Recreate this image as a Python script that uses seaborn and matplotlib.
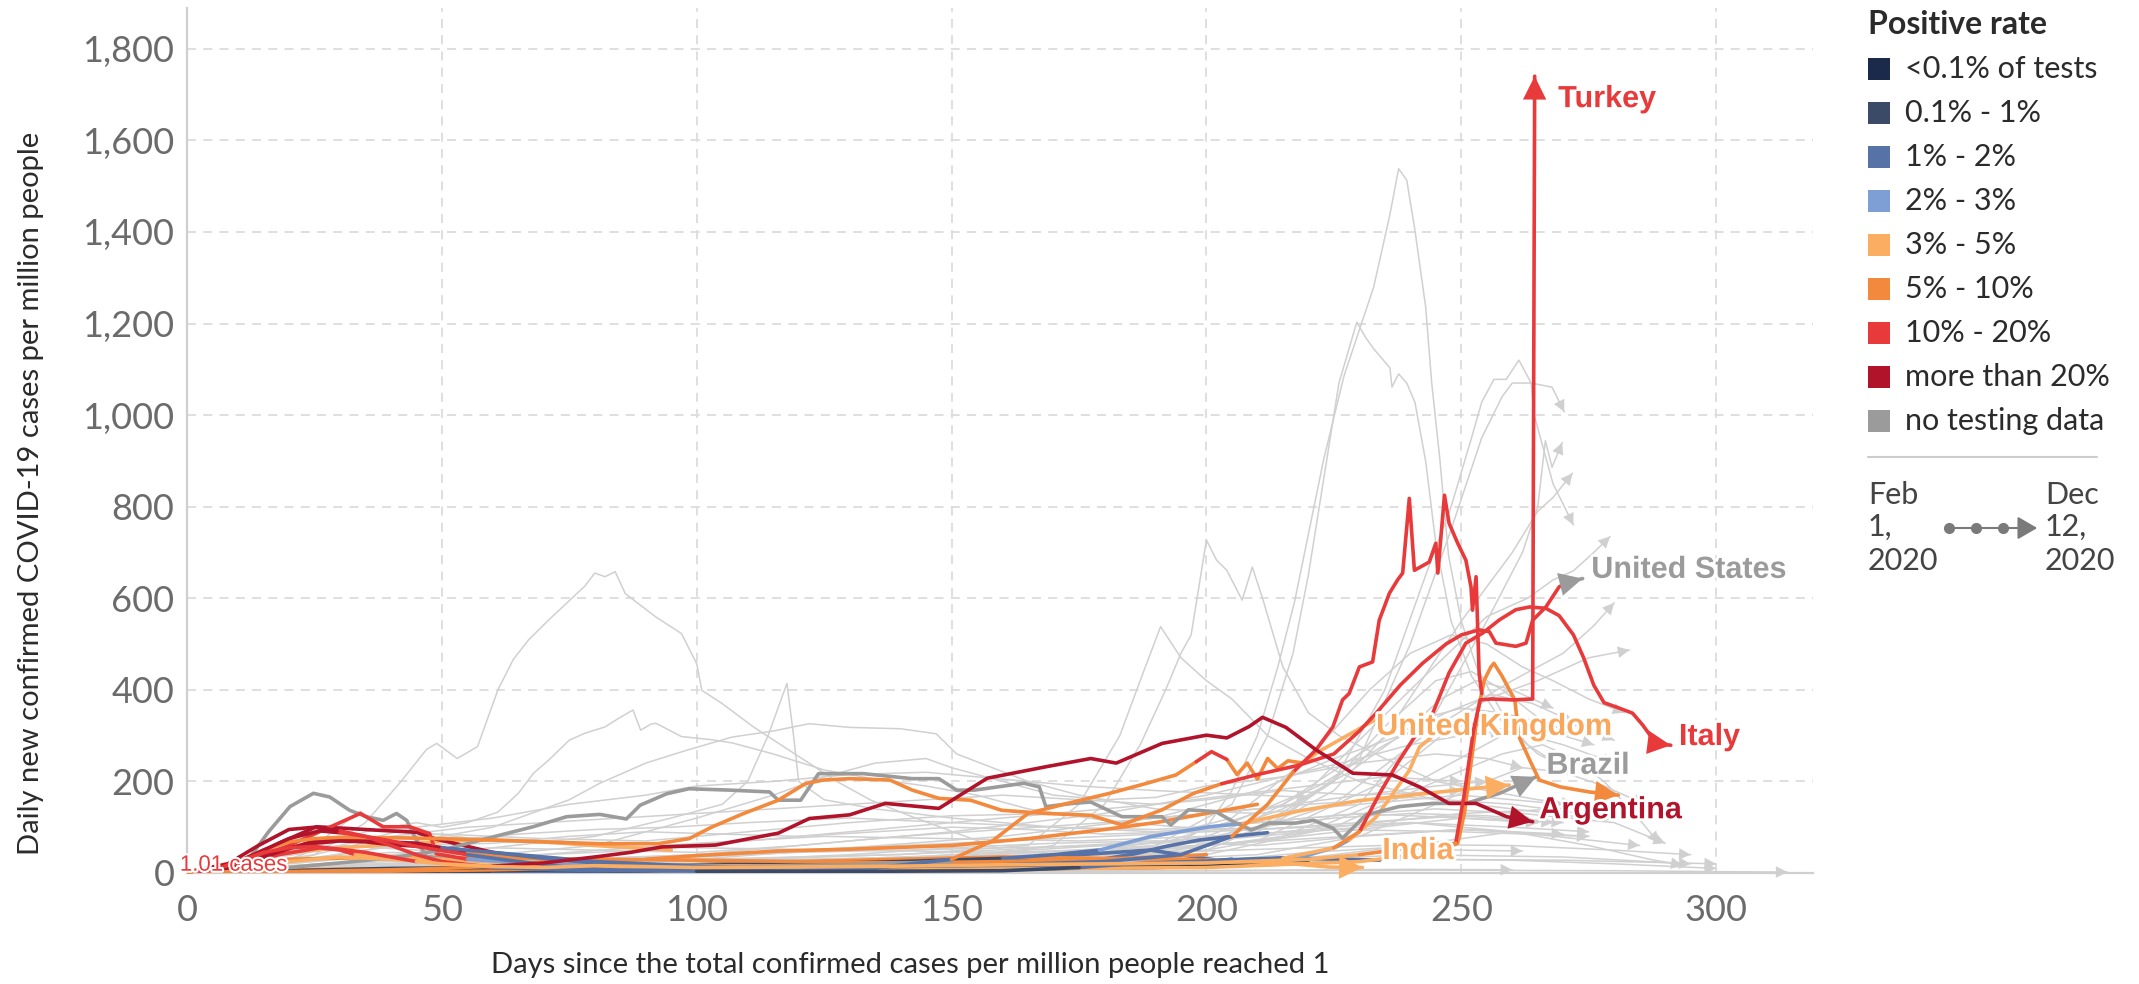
import pandas as pd
import seaborn as sns
import matplotlib.pyplot as plt
import matplotlib.patheffects as pe
from matplotlib.lines import Line2D
from matplotlib.patches import Rectangle, FancyArrowPatch

# ---- legend categories (positive rate) ----
cat_codes = ['a', 'b', 'c', 'd', 'e', 'f', 'g', 'h', 'n']
cat_labels = ['<0.1% of tests', '0.1% - 1%', '1% - 2%', '2% - 3%', '3% - 5%',
              '5% - 10%', '10% - 20%', 'more than 20%', 'no testing data']
cat_colors = ['#1b2a4a', '#3b4a66', '#5772a6', '#7e9ed6', '#fbad62',
              '#f3893c', '#e8393b', '#b1132b', '#9b9b9b']

# ---- highlighted countries / lines (days, daily cases per million, colour code per segment) ----
argentina_d = [0, 10, 20, 30, 40, 50, 60, 70, 80, 87, 93.2, 103.7, 116, 122.1, 130, 137, 147.5, 157, 168.5,
               177.3, 182.3, 191.3, 200, 204, 208.4, 211, 215.6, 221.5, 228.7, 236.5, 241.8, 247.6, 252.9,
               258.9, 264]
argentina_v = [1, 2, 3, 5, 7, 10, 15, 22, 35, 45, 57, 61, 87, 119, 127, 152, 141, 207, 232, 250, 240, 283,
               301, 295, 320, 340, 318, 269, 218, 214, 188, 152, 152, 123, 112]
argentina_c = 'ffffff' + 'h' * 29

brazil_d = [0, 10, 20, 30, 40, 50, 60.1, 67.9, 74.5, 81, 86.2, 88.9, 94.1, 98.5, 106.4, 114.3, 116, 120.4,
            123.9, 132.7, 142.3, 147.5, 151, 154.5, 164.2, 167.2, 168.5, 173.8, 177.3, 183.4, 191.3, 193,
            196.5, 201.8, 205.3, 208.8, 212.3, 217.5, 221, 224.8, 226.7, 231.3, 237.8, 244.4, 250.9, 257.5,
            264.7]
brazil_v = [1, 4, 12, 22, 33, 50, 79, 101, 123, 128, 118, 148, 173, 184, 181, 177, 159, 159, 217, 217, 206,
            206, 181, 181, 196, 188, 145, 152, 155, 123, 123, 105, 138, 134, 112, 94, 109, 109, 115, 98, 76,
            127, 145, 152, 152, 174, 210]
brazil_c = 'n'

grey_peak_d = [0, 6, 12.4, 16, 20.2, 24.8, 28, 31.9, 35.2, 38.5, 41.1, 43.1, 45, 47, 52, 60, 75, 90, 110,
               130, 150]
grey_peak_v = [1, 10, 35, 90, 145, 174, 166, 137, 123, 115, 130, 115, 72, 36, 30, 25, 20, 18, 15, 18, 25]
grey_peak_c = 'n'

us_d = [0, 5, 10, 15, 20, 25, 30, 40, 50, 60, 70, 81, 92.4, 98.5, 102.9, 109, 116, 121.3, 124.8, 130,
        137.9, 142.3, 147.5, 153.7, 159.8, 168.5, 177.3, 183.4, 191.3, 197.5, 203, 210, 218, 225, 230, 233.3,
        238, 242.4, 247, 250, 253.5, 255.5, 256.8, 260.7, 262.7, 264, 266.6, 269.2, 271, 273.8]
us_v = [1, 6, 25, 50, 68, 75, 78, 77, 75, 72, 68, 64, 64, 75, 100, 129, 159, 195, 203, 206, 203, 181, 163,
        159, 137, 130, 126, 105, 138, 174, 195, 215, 235, 260, 310, 349, 410, 458, 500, 520, 531, 527, 502,
        495, 502, 552, 581, 625, 635, 643]
us_c = 'f' * 30 + 'g' * 18 + 'nn'

uk_d = [0, 5, 10, 15, 20, 25, 30, 35, 40, 50, 60, 70, 80, 90, 100, 110, 120, 135, 150, 158, 165, 172, 181,
        188, 194, 198, 201, 204, 206, 208, 210, 212, 214, 216, 219, 222, 226, 230, 233]
uk_v = [1, 4, 15, 35, 55, 65, 70, 68, 62, 55, 45, 32, 22, 18, 14, 11, 10, 11, 30, 70, 130, 150, 174, 195,
        214, 243, 265, 248, 215, 240, 205, 250, 228, 245, 240, 265, 290, 315, 334]
uk_c = 'h' * 9 + 'c' * 9 + 'f' * 7 + 'gg' + 'f' * 7 + 'e' * 5

italy_d = [0, 5, 10, 15, 20, 26, 30, 35, 40, 45, 55, 65, 75, 85, 100, 120, 140, 160, 175, 185, 200, 215,
           225, 230, 234, 237.5, 241, 244.4, 247.6, 250.9, 254.2, 257.5, 260.7, 263.4, 266.6, 269.2, 272,
           274, 276, 278, 281, 283.6, 285.6, 288.2, 291.1]
italy_v = [1, 8, 25, 50, 75, 92, 88, 80, 70, 58, 40, 25, 12, 6, 4, 3, 4, 5, 12, 20, 25, 32, 55, 90, 174,
           240, 300, 349, 437, 502, 524, 553, 575, 581, 578, 562, 520, 470, 410, 372, 360, 349, 323, 283, 279]
italy_c = 'h' * 6 + 'g' * 4 + 'c' * 4 + 'b' * 4 + 'c' * 3 + 'e' + 'f' + 'g' * 22

turkey_d = [0, 5, 10, 15, 20, 25, 30, 35, 40, 45, 50, 60, 70, 80, 90, 100, 120, 140, 160, 180, 200, 220,
            230, 240, 246, 248.9, 250.5, 252.4, 253.7, 256, 260, 264, 264.4]
turkey_v = [1, 6, 25, 45, 55, 58, 52, 45, 35, 25, 20, 14, 12, 16, 14, 12, 13, 15, 18, 20, 22, 30, 40, 55,
            60, 65, 166, 312, 378, 380, 378, 380, 1740]
turkey_c = 'g' * 9 + 'e' * 13 + 'f' * 3 + 'g' * 8

spiky_d = [0, 8, 14, 20, 25, 30, 35, 40, 45, 50, 60, 80, 100, 120, 140, 160, 180, 195, 205, 212, 217,
           221.5, 224.8, 226.7, 228, 230, 232.6, 233.9, 235.9, 237.5, 238.5, 239.8, 240.8, 243.7, 245,
           245.4, 246.7, 247.6, 249.3, 250.9, 251.9, 252.2, 252.9, 253.5, 254]
spiky_v = [1, 20, 60, 95, 100, 92, 80, 60, 40, 25, 12, 5, 8, 10, 14, 18, 25, 40, 80, 150, 220, 269, 319,
           378, 392, 450, 461, 552, 611, 640, 655, 818, 661, 679, 720, 655, 825, 764, 720, 683, 625, 574,
           647, 436, 392]
spiky_c = 'h' * 5 + 'g' * 5 + 'c' * 8 + 'ff' + 'g' * 25

orange_peak_d = [0, 10, 20, 30, 40, 60, 100, 150, 200, 230, 245, 249.3, 250.6, 251.9, 253.2, 254.5, 255.8,
                 256.4, 258, 260.5, 261.3, 263.7, 265.3, 269.4, 275.1, 280.8]
orange_peak_v = [1, 8, 25, 35, 30, 15, 10, 8, 12, 25, 45, 65, 130, 239, 349, 421, 450, 458, 430, 378, 298,
                 240, 203, 188, 177, 170]
orange_peak_c = 'e' * 10 + 'f' * 16

gentle_d = [0, 20, 40, 60, 80, 100, 120, 140, 160, 170, 179, 188.8, 200.6, 207.1, 218, 230, 240, 250, 259.4]
gentle_v = [1, 5, 10, 12, 15, 18, 20, 25, 32, 40, 50, 79, 101, 108, 135, 158, 170, 182, 192]
gentle_c = 'b' * 8 + 'cc' + 'ddd' + 'e' * 6

india_d = [0, 20, 40, 60, 80, 100, 120, 140, 160, 180, 200, 215, 224, 230.6]
india_v = [1, 2, 4, 7, 12, 18, 25, 30, 35, 32, 28, 22, 13, 12]
india_c = 'f' * 10 + 'e' * 4

blue_flat_d = [60, 80, 100, 120, 140, 160, 175, 189, 202, 215, 234]
blue_flat_v = [5, 8, 12, 15, 20, 28, 40, 50, 28, 33, 28]
blue_flat_c = 'bbbb' + 'c' * 7

light_blue_d = [100, 130, 160, 190, 205, 215, 220, 225.5, 228, 233.3, 239.8, 241.8, 244]
light_blue_v = [5, 10, 15, 22, 28, 32, 39, 57, 72, 122, 224, 275, 295]
light_blue_c = 'c' * 5 + 'ddd' + 'e' * 5

blue_rise_d = [60, 90, 120, 150, 170, 179, 186, 192, 198.6, 205, 212]
blue_rise_v = [3, 6, 10, 14, 18, 29, 42, 58, 72, 80, 88]
blue_rise_c = 'c'

navy1_d = [70, 90, 110, 130, 150, 170, 190, 200, 210, 220]
navy1_v = [3, 5, 8, 9, 9, 10, 12, 15, 18, 22]
navy1_c = 'a'
navy2_d = [50, 70, 100, 130, 160, 180, 195, 205]
navy2_v = [2, 4, 6, 7, 8, 12, 20, 30]
navy2_c = 'b'
navy3_d = [0, 20, 40, 54.5]
navy3_v = [1, 2, 3, 2]
navy3_c = 'a'

early_r1_d = [0, 6, 12, 18, 25.4, 31.9, 38, 45, 48.9, 51.6, 60, 80, 100, 130, 160]
early_r1_v = [1, 10, 30, 65, 101, 97, 93, 89, 74, 67, 45, 25, 15, 10, 8]
early_r1_c = 'h' * 10 + 'c' * 5
early_r3_d = [0, 10, 20, 28, 34, 38.5, 43.7, 47.6, 48.9, 55, 70, 90, 120]
early_r3_v = [1, 20, 60, 100, 130, 101, 101, 86, 42, 30, 20, 15, 12]
early_r3_c = 'g' * 9 + 'dddd'
early_r4_d = [0, 8, 15, 25.4, 35, 45, 55, 70, 90]
early_r4_v = [1, 12, 35, 72, 70, 65, 45, 30, 20]
early_r4_c = 'h' * 6 + 'fff'
early_r5_d = [0, 10, 18, 26, 30, 33, 40, 60, 90, 130]
early_r5_v = [1, 15, 40, 55, 50, 40, 35, 25, 18, 12]
early_r5_c = 'g' * 5 + 'e' * 5
early_o2_d = [0, 10, 20, 40, 60, 80, 100, 120, 140, 160, 180, 200]
early_o2_v = [1, 15, 30, 35, 33, 30, 28, 25, 22, 25, 30, 40]
early_o2_c = 'f'
early_o3_d = [0, 15, 30, 48, 70, 100, 130, 160]
early_o3_v = [1, 6, 8, 9, 8, 7, 8, 10]
early_o3_c = 'f'
early_o4_d = [0, 12, 20, 30, 40, 52, 60, 70, 80, 95]
early_o4_v = [1, 30, 45, 55, 62, 70, 72, 68, 60, 50]
early_o4_c = 'e'
mid_orange_d = [90, 100, 116, 130, 150, 165, 180, 190, 200, 210]
mid_orange_v = [30, 38, 48, 52, 60, 75, 95, 110, 130, 150]
mid_orange_c = 'f'

# ---- background countries (thin grey) ----
g01_d = [0, 15, 25, 35, 42, 47, 49, 53, 57, 61, 64, 67, 71, 78, 80, 82, 84, 86, 92, 97, 100, 101, 105, 111,
         118, 123, 127, 134, 142, 151, 160, 175, 190, 205, 220, 235, 250, 262]
g01_v = [1, 10, 40, 110, 200, 270, 283, 250, 276, 400, 466, 509, 553, 626, 655, 647, 658, 610, 559, 523, 457,
         399, 370, 320, 269, 233, 203, 160, 124, 87, 51, 35, 28, 30, 45, 55, 50, 48]
g02_d = [0, 20, 35, 45, 50, 55, 61, 65, 68, 71, 75, 78, 82, 85, 87.5, 89, 91, 92, 97, 103, 107, 115, 125,
         135, 145, 155, 165, 180, 195, 210, 230, 250, 268]
g02_v = [1, 30, 90, 110, 100, 110, 133, 174, 218, 247, 290, 305, 319, 340, 356, 312, 325, 327, 298, 291, 284,
         260, 225, 205, 190, 170, 140, 115, 100, 95, 110, 125, 110]
g03_d = [0, 30, 60, 90, 120, 150, 170, 180, 187, 192, 195, 197, 200, 202, 204, 207, 209, 211, 215, 220, 226,
         235, 245, 255, 265, 272]
g03_v = [1, 20, 15, 10, 15, 30, 60, 150, 280, 400, 480, 520, 727, 683, 661, 596, 668, 600, 450, 350, 300,
         250, 200, 180, 160, 150]
g04_d = [0, 40, 80, 120, 160, 190, 200, 205, 210, 214, 217.3, 223, 227, 232.8, 236, 237.7, 239.3, 240.9, 243,
         244.2, 245.8, 247.5, 250, 253, 258, 263, 270]
g04_v = [1, 30, 10, 5, 8, 40, 100, 180, 300, 450, 593, 903, 1086, 1279, 1438, 1538, 1513, 1404, 1237, 1070,
         903, 693, 550, 450, 350, 280, 230]
g05_d = [0, 40, 80, 120, 160, 190, 205, 212, 217, 220, 223, 226, 229.5, 231.2, 232.8, 236, 236.4, 237.7,
         239.3, 240.9, 243, 245, 248, 252, 258, 265, 272]
g05_v = [1, 15, 8, 10, 20, 60, 150, 300, 480, 651, 860, 1070, 1203, 1170, 1145, 1103, 1061, 1090, 1070, 1028,
         900, 720, 550, 430, 330, 260, 220]
g06_d = [0, 50, 100, 150, 190, 210, 225, 235, 243, 248, 252, 254, 256.4, 258.8, 261.3, 263.7, 264.3, 268, 272]
g06_v = [1, 20, 10, 15, 40, 90, 200, 400, 650, 800, 950, 1028, 1078, 1078, 1120, 1070, 1000, 850, 760]
g07_d = [0, 50, 100, 150, 200, 215, 230, 240, 248, 254, 258, 260, 263.7, 267.8, 270.2]
g07_v = [1, 10, 8, 12, 50, 120, 250, 500, 750, 950, 1040, 1070, 1070, 1061, 1007]
g08_d = [0, 60, 120, 180, 215, 230, 245, 255, 262, 265, 266.5, 267.8, 269.8]
g08_v = [1, 15, 10, 30, 80, 150, 350, 550, 700, 800, 944, 886, 940]
g09_d = [0, 60, 120, 180, 210, 225, 235, 250, 260, 265, 268, 271.8]
g09_v = [1, 20, 15, 40, 90, 180, 300, 550, 700, 790, 820, 873]
g10_d = [0, 80, 150, 200, 220, 240, 255, 263, 268, 272, 276, 279.2]
g10_v = [1, 10, 15, 60, 180, 400, 560, 600, 640, 660, 700, 735]
g11_d = [0, 80, 150, 200, 225, 245, 260, 270, 276, 280]
g11_v = [1, 15, 20, 60, 150, 320, 420, 480, 540, 590]
g12_d = [0, 80, 160, 210, 235, 255, 265, 275, 283]
g12_v = [1, 8, 25, 70, 200, 380, 420, 470, 487]
g13_d = [0, 50, 100, 140, 165, 175, 183, 187, 191, 195, 200, 205, 212, 220, 230, 245, 260, 275]
g13_v = [1, 20, 30, 40, 60, 150, 300, 420, 538, 470, 420, 380, 300, 250, 200, 160, 140, 120]
g14_d = [0, 30, 60, 75, 81, 90, 98, 107, 115, 122, 130, 140, 147, 151, 158, 165, 175, 190, 210, 230, 250, 270]
g14_v = [1, 40, 100, 160, 196, 240, 268, 297, 310, 326, 318, 315, 304, 260, 230, 200, 170, 140, 130, 150, 170,
         150]
g15_d = [0, 40, 80, 95, 105, 110, 114, 117.7, 119, 120, 125, 135, 150, 170, 190, 210, 230, 250, 265]
g15_v = [1, 30, 80, 120, 150, 200, 300, 414, 300, 200, 160, 140, 120, 100, 90, 110, 130, 120, 110]
g16_d = [0, 40, 80, 100, 115, 125, 135, 145, 150, 160, 170, 180, 190, 200, 215, 230, 245, 255, 262]
g16_v = [1, 20, 60, 120, 170, 210, 240, 250, 230, 200, 170, 160, 165, 190, 210, 240, 260, 250, 230]
g17_d = [0, 100, 180, 205, 220, 232, 240, 248, 255, 262, 268, 275, 282]
g17_v = [1, 20, 50, 120, 250, 400, 480, 520, 500, 450, 420, 380, 350]
g18_d = [0, 100, 180, 210, 225, 235, 245, 252, 258, 265, 272]
g18_v = [1, 10, 30, 100, 200, 320, 420, 440, 400, 340, 300]
g19_d = [0, 120, 190, 215, 230, 240, 250, 258, 265, 270, 276]
g19_v = [1, 15, 60, 150, 260, 330, 360, 350, 330, 300, 280]
g20_d = [0, 100, 170, 200, 215, 228, 238, 246, 253, 260, 268]
g20_v = [1, 12, 40, 80, 140, 220, 300, 380, 420, 400, 360]
g21_d = [0, 130, 200, 225, 245, 258, 266, 272, 278, 284, 288.8]
g21_v = [1, 10, 40, 100, 200, 260, 280, 250, 200, 130, 65]
g22_d = [0, 150, 210, 240, 260, 275, 287, 293.4]
g22_v = [1, 5, 20, 60, 90, 60, 30, 17]
g23_d = [0, 100, 200, 250, 280, 300, 314]
g23_v = [1, 3, 5, 6, 5, 3, 2]
g24_d = [0, 100, 160, 190, 210, 225, 238, 250, 260, 270, 280]
g24_v = [1, 30, 80, 120, 180, 250, 300, 330, 310, 280, 240]
g25_d = [0, 120, 180, 205, 222, 235, 247, 256, 264, 272]
g25_v = [1, 20, 60, 110, 190, 280, 350, 390, 370, 330]
g26_d = [0, 140, 200, 220, 235, 248, 258, 266, 274, 280]
g26_v = [1, 15, 50, 90, 160, 240, 300, 330, 320, 290]
g27_d = [0, 150, 210, 230, 245, 255, 262, 270, 278, 286]
g27_v = [1, 10, 40, 80, 150, 200, 230, 220, 190, 150]
g28_d = [0, 100, 150, 180, 200, 215, 230, 240, 250, 258]
g28_v = [1, 40, 90, 130, 170, 210, 250, 280, 300, 310]
b01_d = [0, 10, 20, 30, 45, 60, 80, 100, 120, 140, 160, 180, 200, 220, 240, 260, 275]
b01_v = [1, 15, 45, 60, 50, 40, 30, 35, 45, 50, 55, 60, 70, 90, 110, 100, 90]
b02_d = [0, 10, 25, 40, 55, 70, 90, 110, 130, 150, 170, 190, 210, 230, 250, 270]
b02_v = [1, 8, 30, 45, 40, 30, 25, 30, 40, 55, 65, 70, 60, 80, 95, 85]
b03_d = [0, 15, 30, 50, 70, 90, 110, 130, 150, 170, 190, 210, 230, 250, 265]
b03_v = [1, 20, 35, 30, 20, 15, 20, 28, 35, 40, 50, 70, 95, 120, 110]
b04_d = [0, 20, 40, 60, 80, 100, 120, 140, 160, 180, 200, 220, 240, 260, 285]
b04_v = [1, 10, 20, 25, 30, 40, 50, 60, 70, 80, 90, 100, 110, 90, 60]
b05_d = [0, 20, 35, 50, 65, 80, 95, 110, 130, 150, 170, 190, 205, 225, 245, 262, 280, 290]
b05_v = [1, 25, 50, 70, 85, 95, 100, 110, 120, 110, 100, 95, 105, 125, 140, 130, 110, 65]
b06_d = [0, 20, 40, 60, 80, 100, 120, 140, 160, 180, 200, 220, 240, 260, 280, 300]
b06_v = [1, 5, 10, 12, 10, 8, 10, 12, 15, 18, 20, 25, 30, 28, 20, 10]
b07_d = [0, 30, 60, 90, 120, 150, 180, 210, 240, 270, 295]
b07_v = [1, 8, 15, 20, 25, 22, 20, 25, 40, 35, 20]
b08_d = [0, 15, 30, 45, 60, 75, 90, 105, 120, 135, 150, 165, 180, 195, 210, 225, 240, 255, 270]
b08_v = [1, 30, 55, 60, 65, 80, 90, 85, 80, 90, 100, 95, 85, 90, 100, 120, 130, 125, 110]
b09_d = [0, 25, 50, 75, 100, 125, 150, 175, 200, 225, 250, 275]
b09_v = [1, 15, 25, 45, 65, 80, 75, 70, 80, 95, 90, 80]
b10_d = [0, 25, 40, 55, 70, 85, 100, 115, 130, 145, 160, 175, 190, 205, 220, 235, 250]
b10_v = [1, 40, 80, 100, 110, 120, 130, 140, 150, 160, 170, 160, 150, 170, 190, 210, 200]
b11_d = [0, 30, 60, 90, 120, 150, 180, 210, 240, 260]
b11_v = [1, 3, 4, 5, 6, 5, 4, 6, 8, 7]
b12_d = [0, 20, 40, 60, 90, 120, 150, 180, 210, 240, 270, 300]
b12_v = [1, 12, 18, 22, 18, 14, 12, 15, 22, 30, 28, 20]
b13_d = [0, 30, 45, 60, 75, 90, 100, 115, 130, 145, 160, 175, 190, 200, 210, 220]
b13_v = [1, 60, 100, 120, 150, 170, 190, 200, 215, 220, 205, 190, 180, 175, 170, 165]
b14_d = [0, 30, 60, 90, 120, 150, 180, 200, 215, 230, 245, 255]
b14_v = [1, 20, 35, 50, 80, 110, 140, 160, 180, 170, 190, 200]
b15_d = [0, 25, 34, 38, 45, 60, 80, 100, 130, 160, 190, 220, 250, 275]
b15_v = [1, 60, 135, 100, 90, 70, 60, 55, 50, 45, 55, 75, 95, 80]
b16_d = [0, 20, 40, 60, 80, 100, 120, 140, 160, 180, 200, 220, 240, 260, 280]
b16_v = [1, 20, 40, 55, 50, 45, 60, 80, 95, 110, 130, 150, 165, 150, 120]
b17_d = [0, 15, 30, 50, 70, 90, 110, 130, 150, 170, 190, 210, 230, 250]
b17_v = [1, 35, 70, 85, 75, 70, 90, 110, 125, 130, 120, 140, 170, 180]
b18_d = [0, 25, 50, 75, 100, 125, 150, 175, 200, 225, 250, 270]
b18_v = [1, 10, 15, 20, 25, 35, 45, 60, 75, 100, 130, 140]
b19_d = [0, 20, 40, 60, 80, 100, 120, 140, 160, 180, 200, 220, 240, 260, 280, 295]
b19_v = [1, 8, 14, 18, 22, 26, 30, 34, 38, 42, 48, 55, 62, 60, 50, 40]

# ---- end labels ----
label_names = ['Turkey', 'United States', 'Italy', 'United Kingdom', 'India', 'Brazil', 'Argentina']
label_days = [269, 275.5, 292.7, 233.3, 234.5, 266.7, 265.3]
label_vals = [1690, 662, 297, 319, 48, 234, 137]
label_cols = ['#e8393b', '#9b9b9b', '#e8393b', '#f9a75d', '#f9a75d', '#9b9b9b', '#b1132b']

y_ticks = [0, 200, 400, 600, 800, 1000, 1200, 1400, 1600, 1800]
x_ticks = [0, 50, 100, 150, 200, 250, 300]

# ---------------------------------------------------------------
W, H = 2139, 984
sns.set_theme(style='white')
plt.rcParams['font.family'] = ['Lato', 'DejaVu Sans']

fig = plt.figure(figsize=(W / 100, H / 100), dpi=100)
ax = fig.add_axes([187 / W, 1 - 873 / H, (1813 - 187) / W, (873 - 8) / H])

palette = dict(zip(cat_codes, cat_colors))

grey_series = [(g01_d, g01_v), (g02_d, g02_v), (g03_d, g03_v), (g04_d, g04_v), (g05_d, g05_v),
               (g06_d, g06_v), (g07_d, g07_v), (g08_d, g08_v), (g09_d, g09_v), (g10_d, g10_v),
               (g11_d, g11_v), (g12_d, g12_v), (g13_d, g13_v), (g14_d, g14_v), (g15_d, g15_v),
               (g16_d, g16_v), (g17_d, g17_v), (g18_d, g18_v), (g19_d, g19_v), (g20_d, g20_v),
               (g21_d, g21_v), (g22_d, g22_v), (g23_d, g23_v), (g24_d, g24_v), (g25_d, g25_v),
               (g26_d, g26_v), (g27_d, g27_v), (g28_d, g28_v),
               (b01_d, b01_v), (b02_d, b02_v), (b03_d, b03_v), (b04_d, b04_v), (b05_d, b05_v),
               (b06_d, b06_v), (b07_d, b07_v), (b08_d, b08_v), (b09_d, b09_v), (b10_d, b10_v),
               (b11_d, b11_v), (b12_d, b12_v), (b13_d, b13_v), (b14_d, b14_v), (b15_d, b15_v),
               (b16_d, b16_v), (b17_d, b17_v), (b18_d, b18_v), (b19_d, b19_v)]

rows = []
for i, (d, v) in enumerate(grey_series):
    rows += [dict(line=i, day=x, val=y) for x, y in zip(d, v)]
grey_df = pd.DataFrame(rows)
sns.lineplot(data=grey_df, x='day', y='val', units='line', estimator=None, sort=False,
             color='#d0d0d0', linewidth=1.1, ax=ax, legend=False, zorder=2)

# (days, values, colour codes, draw arrow head at the end?)
highlight = [(early_o3_d, early_o3_v, early_o3_c, False), (navy3_d, navy3_v, navy3_c, False),
             (navy1_d, navy1_v, navy1_c, False), (navy2_d, navy2_v, navy2_c, False),
             (blue_rise_d, blue_rise_v, blue_rise_c, False), (blue_flat_d, blue_flat_v, blue_flat_c, False),
             (india_d, india_v, india_c, True), (gentle_d, gentle_v, gentle_c, True),
             (light_blue_d, light_blue_v, light_blue_c, False), (early_o2_d, early_o2_v, early_o2_c, False),
             (early_o4_d, early_o4_v, early_o4_c, False), (mid_orange_d, mid_orange_v, mid_orange_c, False),
             (grey_peak_d, grey_peak_v, grey_peak_c, False), (early_r5_d, early_r5_v, early_r5_c, False),
             (early_r4_d, early_r4_v, early_r4_c, False), (early_r1_d, early_r1_v, early_r1_c, False),
             (early_r3_d, early_r3_v, early_r3_c, False), (brazil_d, brazil_v, brazil_c, True),
             (orange_peak_d, orange_peak_v, orange_peak_c, True), (uk_d, uk_v, uk_c, False),
             (us_d, us_v, us_c, True), (spiky_d, spiky_v, spiky_c, False), (italy_d, italy_v, italy_c, True),
             (argentina_d, argentina_v, argentina_c, True), (turkey_d, turkey_v, turkey_c, True)]


def segment_rows(days, vals, cats, sid):
    n = len(days)
    cats = cats.ljust(n, cats[-1])
    out, i, k = [], 0, 0
    while i < n - 1:
        c = cats[i]
        j = i
        while j < n - 1 and cats[j] == c:
            j += 1
        for p in range(i, j + 1):
            out.append(dict(seg=f'{sid}_{k}', day=days[p], val=vals[p], cat=c))
        k += 1
        i = j
    return out


for sid, (d, v, c, head) in enumerate(highlight):
    seg_df = pd.DataFrame(segment_rows(d, v, c, sid))
    sns.lineplot(data=seg_df, x='day', y='val', hue='cat', units='seg', estimator=None, sort=False,
                 palette=palette, linewidth=2.6, ax=ax, legend=False, zorder=3 + sid * 0.01)
    if head:
        cc = c.ljust(len(d), c[-1])
        ax.annotate('', xy=(d[-1], v[-1]), xytext=(d[-2], v[-2]),
                    arrowprops=dict(arrowstyle='-|>,head_length=0.7,head_width=0.35', lw=0,
                                    color=palette[cc[len(d) - 2]], shrinkA=0, shrinkB=0,
                                    mutation_scale=24), zorder=4)

for d, v in grey_series:
    ax.annotate('', xy=(d[-1], v[-1]), xytext=(d[-2], v[-2]),
                arrowprops=dict(arrowstyle='-|>,head_length=0.6,head_width=0.3', lw=0,
                                color='#d0d0d0', shrinkA=0, shrinkB=0, mutation_scale=14), zorder=2)

# country labels
for name, dx, vy, col in zip(label_names, label_days, label_vals, label_cols):
    ax.text(dx, vy, name, color=col, fontsize=22, fontweight='bold', family='Liberation Sans',
            ha='left', va='center', zorder=6,
            path_effects=[pe.withStroke(linewidth=4, foreground='white')])

ax.plot([0], [1], marker='o', ms=7, color='#f3893c', zorder=6)
ax.text(-1.4, 17, '1.01 cases', color='#e8393b', fontsize=16, family='Liberation Sans',
        ha='left', va='center', zorder=7,
        path_effects=[pe.withStroke(linewidth=3, foreground='white')])

# axes styling
ax.set_xlim(0, 319)
ax.set_ylim(0, 1889)
ax.set_xticks(x_ticks)
ax.set_yticks(y_ticks)
ax.set_yticklabels([f'{t:,}' for t in y_ticks])
ax.grid(True, linestyle=(0, (5, 4)), color='#dcdcdc', linewidth=1.3, zorder=0)
ax.set_axisbelow(True)
for s in ['top', 'right']:
    ax.spines[s].set_visible(False)
for s in ['left', 'bottom']:
    ax.spines[s].set_color('#cfcfcf')
    ax.spines[s].set_linewidth(1.6)
ax.tick_params(axis='both', length=0, labelsize=26, labelcolor='#6b6b6b')
ax.tick_params(axis='y', pad=9)
ax.tick_params(axis='x', pad=15)
ax.set_xlabel('')
ax.set_ylabel('')

fig.text(31 / W, 1 - 493 / H, 'Daily new confirmed COVID-19 cases per million people', rotation=90,
         ha='center', va='center', fontsize=21, color='#2b2b2b')
fig.text(910 / W, 1 - 965 / H, 'Days since the total confirmed cases per million people reached 1',
         ha='center', va='center', fontsize=21, color='#2b2b2b')

# legend
fig.text(1868 / W, 1 - 24 / H, 'Positive rate', ha='left', va='center', fontsize=23,
         fontweight='bold', color='#2b2b2b')
row_y = [68.5, 112.5, 156.5, 200.5, 244.5, 288.5, 332.5, 377, 421]
for yy, lab, col in zip(row_y, cat_labels, cat_colors):
    fig.add_artist(Rectangle((1868 / W, 1 - (yy + 11) / H), 22 / W, 22 / H, transform=fig.transFigure,
                             facecolor=col, edgecolor='none'))
    fig.text(1905 / W, 1 - yy / H, lab, ha='left', va='center', fontsize=22, color='#2b2b2b')
fig.add_artist(Line2D([1868 / W, 2097 / W], [1 - 457 / H, 1 - 457 / H], transform=fig.transFigure,
                      color='#cccccc', lw=1.5))
for xx, words in [(1868, ['Feb', '1,', '2020']), (2045, ['Dec', '12,', '2020'])]:
    for yy, w in zip([495, 527, 561], words):
        fig.text(xx / W, 1 - yy / H, w, ha='left', va='center', fontsize=22, color='#444444')
fig.add_artist(FancyArrowPatch((1946 / W, 1 - 528 / H), (2040 / W, 1 - 528 / H),
                               transform=fig.transFigure, arrowstyle='-|>,head_length=0.6,head_width=0.35',
                               mutation_scale=20, color='#7a7a7a', lw=1.5))
fig.add_artist(Line2D([1949 / W, 1976 / W, 2003 / W], [1 - 528 / H] * 3, transform=fig.transFigure,
                      ls='none', marker='o', ms=7, color='#7a7a7a'))

fig.savefig('out.png', dpi=100)
